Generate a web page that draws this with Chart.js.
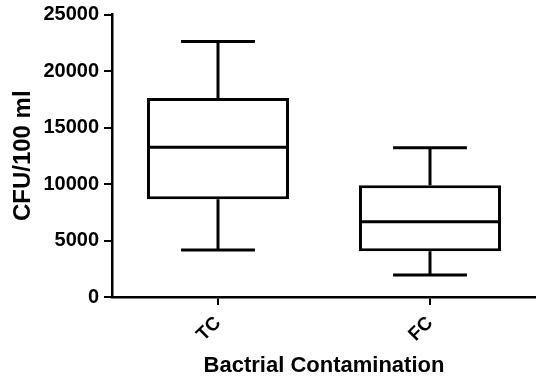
<!DOCTYPE html>
<html>
<head>
<meta charset="utf-8">
<script src="https://cdn.jsdelivr.net/npm/chart.js@4.4.1/dist/chart.umd.min.js"></script>
<style>
  html, body { margin: 0; padding: 0; background: #fff; }
  #wrap { width: 536px; height: 379px; }
</style>
</head>
<body>
<div id="wrap"><canvas id="cv"></canvas></div>
<script>
// box plot values, CFU/100 ml
const categories = ['TC', 'FC'];
const mins    = [4150, 1950];
const q1s     = [8650, 4050];
const medians = [13250, 6650];
const q3s     = [17600, 9900];
const maxs    = [22600, 13200];

const yTicks = [0, 5000, 10000, 15000, 20000, 25000];

const FONT = '"Liberation Sans", Arial, sans-serif';

// whiskers + median, drawn from the scales
const boxExtras = {
  id: 'boxExtras',
  afterDatasetsDraw(chart) {
    const ctx = chart.ctx;
    const y = chart.scales.y;
    const meta = chart.getDatasetMeta(0);
    ctx.save();
    ctx.strokeStyle = '#000';
    ctx.lineWidth = 3;
    ctx.lineCap = 'butt';
    meta.data.forEach((bar, i) => {
      const x = bar.x, w = bar.width;
      const cap = w * 0.26;
      const yMin = y.getPixelForValue(mins[i]);
      const yQ1 = y.getPixelForValue(q1s[i]);
      const yMed = y.getPixelForValue(medians[i]);
      const yQ3 = y.getPixelForValue(q3s[i]);
      const yMax = y.getPixelForValue(maxs[i]);
      ctx.beginPath();
      ctx.moveTo(x, yQ3); ctx.lineTo(x, yMax);
      ctx.moveTo(x - cap, yMax); ctx.lineTo(x + cap, yMax);
      ctx.moveTo(x, yQ1); ctx.lineTo(x, yMin);
      ctx.moveTo(x - cap, yMin); ctx.lineTo(x + cap, yMin);
      ctx.moveTo(x - w / 2 + 1.5, yMed); ctx.lineTo(x + w / 2 - 1.5, yMed);
      ctx.stroke();
    });
    ctx.restore();
  }
};

new Chart(document.getElementById('cv'), {
  type: 'bar',
  data: {
    labels: categories,
    datasets: [{
      data: q1s.map((v, i) => [v, q3s[i]]),
      backgroundColor: '#fff',
      borderColor: '#000',
      borderWidth: 3,
      borderSkipped: false,
      categoryPercentage: 1,
      barPercentage: 0.67
    }]
  },
  options: {
    responsive: true,
    maintainAspectRatio: false,
    animation: false,
    layout: { padding: { top: 0, right: 0, left: 0, bottom: 0 } },
    plugins: { legend: { display: false }, tooltip: { enabled: false } },
    scales: {
      x: {
        offset: true,
        grid: { display: true, drawOnChartArea: false, drawTicks: true, tickLength: 8, color: '#000', lineWidth: 2, offset: false },
        border: { display: true, color: '#000', width: 2.5 },
        ticks: { color: '#000', font: { family: FONT, size: 19, weight: 'bold' }, minRotation: 45, maxRotation: 45, padding: 7 },
        title: { display: true, text: 'Bactrial Contamination', color: '#000', font: { family: FONT, size: 22, weight: 'bold' }, padding: { top: 6, bottom: 0 } },
        afterFit(s) { s.height = 82; }
      },
      y: {
        min: 0, max: 25000,
        afterBuildTicks(s) { s.ticks = yTicks.map(v => ({ value: v })); },
        grid: { display: true, drawOnChartArea: false, drawTicks: true, tickLength: 8, color: '#000', lineWidth: 2 },
        border: { display: true, color: '#000', width: 2.5 },
        ticks: { color: '#000', font: { family: FONT, size: 20, weight: 'bold', lineHeight: 0.95 }, padding: 5, callback: v => String(v) },
        title: { display: true, text: 'CFU/100 ml', color: '#000', font: { family: FONT, size: 24, weight: 'bold' }, padding: { top: 9, bottom: 4 } },
        afterFit(s) { s.width = 112; }
      }
    }
  },
  plugins: [boxExtras]
});
</script>
</body>
</html>
